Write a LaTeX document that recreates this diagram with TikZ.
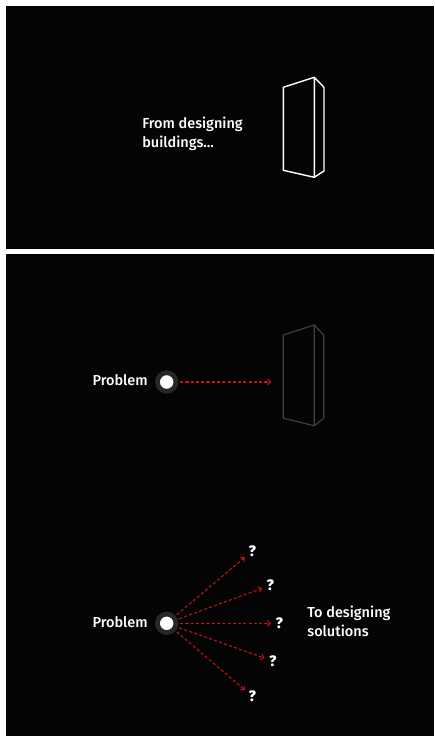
\documentclass[tikz,border=0pt]{standalone}
\usepackage{fontspec}
\setmainfont{Fira Sans Medium}
\usepackage{xcolor}
\usetikzlibrary{arrows.meta,positioning,calc}
\definecolor{panelblack}{HTML}{040404}
\definecolor{dotring}{HTML}{2A2628}
\definecolor{arrowred}{HTML}{C0141C}
\definecolor{fadedline}{HTML}{404040}
\tikzset{
  caption/.style={text=white,font=\fontsize{8.25}{10.8}\selectfont,align=left,inner sep=0pt},
  dotnode/.style={circle,fill=white,draw=dotring,line width=2.7pt,inner sep=0pt,minimum size=0.37cm},
  qmark/.style={text=white,font=\fontsize{8.6}{10}\selectfont\bfseries,inner sep=0pt},
  probline/.style={arrowred,dash pattern=on 1.8pt off 1.2pt,line width=0.6pt,-{Straight Barb[length=1.6pt,width=3.2pt]}}
}
\begin{document}
\begin{tikzpicture}[x=0.02cm,y=-0.02cm]
  \useasboundingbox (0,0) rectangle (434,736);
  \fill[white] (0,0) rectangle (434,736);
  \fill[panelblack] (6,6) rectangle (434,249);
  \fill[panelblack] (6,254) rectangle (434,736);
  % top panel
  \draw[white,line width=0.8pt,line join=round] (283.3,87.3)--(314.3,77.3)--(324,87.3)--(324,171)--(314.3,177.3)--(283.3,170.3)--cycle (314.3,77.3)--(314.3,177.3);
  \node[caption,anchor=west] (fromtext) at (142,134) {From designing\\buildings...};
  % middle
  \draw[fadedline,line width=0.65pt,line join=round] (283.3,335)--(314.3,325)--(323.7,335)--(323.7,418.3)--(314.3,425.7)--(283.3,418.3)--cycle (314.3,325)--(314.3,425.7);
  \node[dotnode] (dotone) at (166.7,382) {};
  \node[caption,anchor=east] (probone) at (148,380.5) {Problem};
  \coordinate (buildingend) at (271.3,382);
  \draw[probline,shorten <=1pt] (dotone) -- (buildingend);
  % bottom
  \node[dotnode] (dottwo) at (166.7,623.3) {};
  \node[caption,anchor=east] (probtwo) at (148,622.5) {Problem};
  \foreach \n/\x/\y in {a/252.3/551,b/270.3/585.3,c/279.3/623.3,d/272.7/661,e/252.3/696.3}{
    \node[qmark] (q\n) at (\x,\y) {?};
    \draw[probline,shorten <=1pt,shorten >=2.5pt] (dottwo) -- (q\n);
  }
  \node[caption,anchor=west] (totext) at (307,621.5) {To designing\\solutions};
\end{tikzpicture}
\end{document}
